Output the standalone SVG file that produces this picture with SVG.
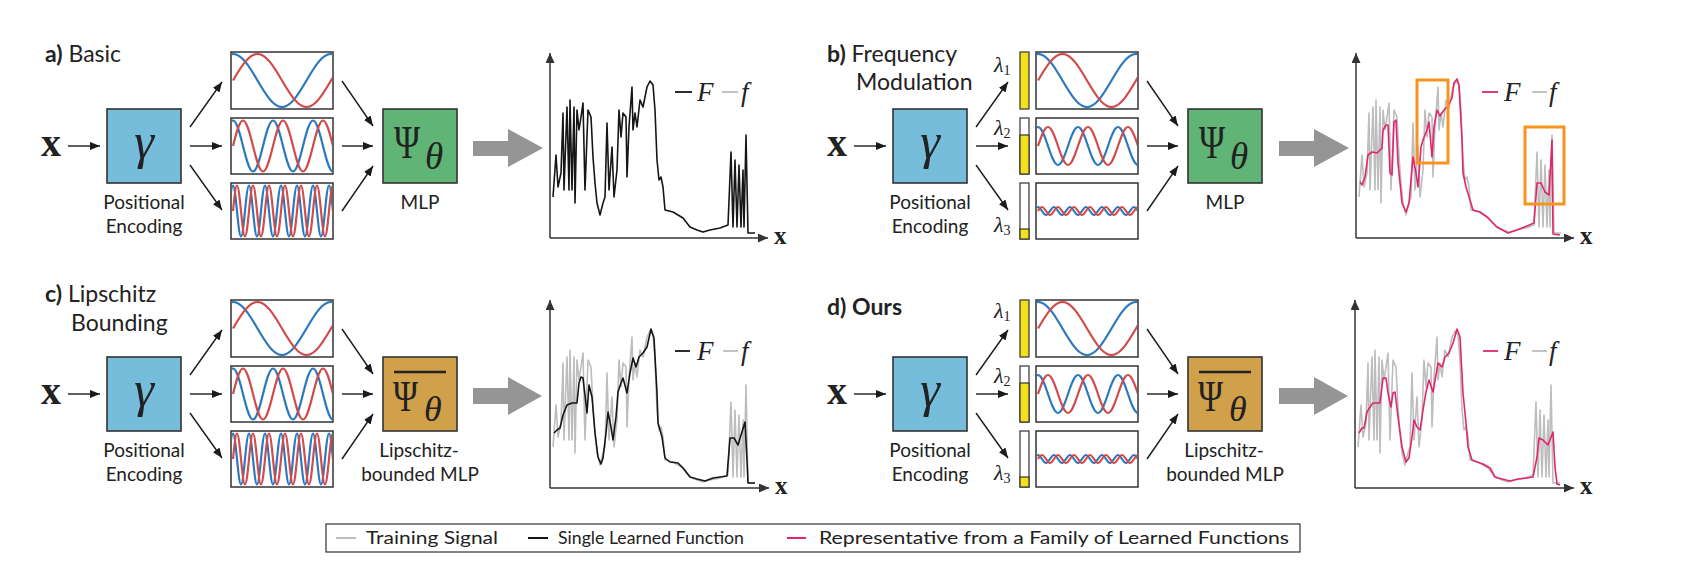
<svg xmlns="http://www.w3.org/2000/svg" xmlns:xlink="http://www.w3.org/1999/xlink" width="1690" height="574" viewBox="0 0 1690 574">
<style>
.bx{stroke:#333;stroke-width:1.6}
.pe{fill:#76bddc}
.mlp{fill:#5fb476}
.lip{fill:#d1a04b}
.wb{fill:#fff;stroke:#333;stroke-width:1.5}
.bar{fill:#fff;stroke:#333;stroke-width:1.2}
.yl{fill:#f4e11c;stroke:#333;stroke-width:1.2}
.wv{fill:none;stroke-width:2.2;vector-effect:non-scaling-stroke}
.bl{stroke:#2b79be}
.rd{stroke:#d24a4a}
.conn line{stroke:#1a1a1a;stroke-width:1.4;marker-end:url(#ah)}
.axis{stroke:#333;stroke-width:1.5;marker-end:url(#ax)}
.lbl{font-family:Lato,"Open Sans",sans-serif;font-size:19px;fill:#222;text-anchor:middle}
.ttl{font-family:Lato,"Open Sans",sans-serif;font-size:23px;fill:#222}
.bold{font-weight:bold}
.mi{font-family:"Liberation Serif",serif;font-style:italic;fill:#222}
.mr{font-family:"Liberation Serif",serif;fill:#222}
.xb{font-family:"Liberation Serif",serif;font-weight:bold;fill:#222}
.big{fill:#959595}
.sig{fill:none;stroke-linejoin:round;stroke-width:1.6}
.gr{stroke:#bdbdbd}
.bk{stroke:#161616}
.pk{stroke:#e0266e}
.or{fill:none;stroke:#f7941d;stroke-width:3}
.leg{font-family:Lato,"Open Sans",sans-serif;font-size:17px;fill:#222}
.lam{font-size:22px}
.sub{font-size:14px;font-style:normal}
</style>
<defs>
<marker id="ah" viewBox="0 0 10 8" refX="10" refY="4" markerWidth="10" markerHeight="8" markerUnits="userSpaceOnUse" orient="auto"><path d="M0,0 L10,4 L0,8 z" fill="#1a1a1a"/></marker>
<marker id="ax" viewBox="0 0 10 9" refX="10" refY="4.5" markerWidth="10" markerHeight="9" markerUnits="userSpaceOnUse" orient="auto"><path d="M0,0 L10,4.5 L0,9 z" fill="#333"/></marker>
<path id="sw" class="wv" d="M0,0 c3.261,-5.123 6.381,-10 10,-10 s6.739,4.877 10,10 s6.381,10 10,10 s6.739,-4.877 10,-10 s6.381,-10 10,-10 s6.739,4.877 10,10 s6.381,10 10,10 s6.739,-4.877 10,-10 s6.381,-10 10,-10 s6.739,4.877 10,10 s6.381,10 10,10 s6.739,-4.877 10,-10 s6.381,-10 10,-10 s6.739,4.877 10,10 s6.381,10 10,10 s6.739,-4.877 10,-10 s6.381,-10 10,-10 s6.739,4.877 10,10 s6.381,10 10,10 s6.739,-4.877 10,-10 s6.381,-10 10,-10 s6.739,4.877 10,10 s6.381,10 10,10 s6.739,-4.877 10,-10 s6.381,-10 10,-10 s6.739,4.877 10,10 s6.381,10 10,10 s6.739,-4.877 10,-10 s6.381,-10 10,-10 s6.739,4.877 10,10 s6.381,10 10,10 s6.739,-4.877 10,-10 s6.381,-10 10,-10"/>
<path id="fsig" d="M553,197 L556,155 558,187 561,173 563,113 564,190 567,107 569,190 570,100 572,190 574,107 575,203 577,110 579,130 581,117 583,103 585,190 588,110 591,117 593,157 595,183 597,203 600,215 603,203 605,197 607,123 609,190 612,147 614,197 617,170 619,110 621,137 623,113 626,117 627,177 629,127 632,87 633,130 635,113 637,127 640,100 643,107 645,97 647,87 650,81 653,85 655,110 657,160 659,180 661,177 663,187 665,210 673,212 683,218 690,227 697,230 703,232 710,230 720,228 728,225 731,152 733,227 735,160 737,227 739,165 741,227 743,170 744,227 746,135 748,233 755,233"/>
</defs>
<rect width="1690" height="574" fill="#fff"/>

<!-- ================= PANEL A ================= -->
<g id="panel-a">
<text class="ttl" x="45" y="62"><tspan class="bold">a)</tspan> Basic</text>
<g id="a-input"><text class="xb" x="41" y="156" font-size="40">x</text></g>
<g id="a-pe">
<rect class="bx pe" x="107" y="109" width="74" height="74"/>
<text class="mi" x="144" y="158" font-size="50" text-anchor="middle">γ</text>
<text class="lbl" x="144" y="209">Positional</text>
<text class="lbl" x="144" y="233">Encoding</text>
</g>
<g id="a-enc1">
<rect class="wb" x="231" y="52" width="102" height="57"/>
<svg x="232" y="53" width="100" height="55" viewBox="232 53 100 55">
<use href="#sw" class="bl" transform="translate(208.5,80.5) scale(2.45,2.65)"/>
<use href="#sw" class="rd" transform="translate(233,80.5) scale(2.45,2.65)"/>
</svg>
</g>
<g id="a-enc2">
<rect class="wb" x="231" y="118" width="102" height="56"/>
<svg x="232" y="119" width="100" height="54" viewBox="232 119 100 54">
<use href="#sw" class="bl" transform="translate(223,146) scale(1,2.55)"/>
<use href="#sw" class="rd" transform="translate(233,146) scale(1,2.55)"/>
</svg>
</g>
<g id="a-enc3">
<rect class="wb" x="231" y="183" width="102" height="56"/>
<svg x="232" y="184" width="100" height="54" viewBox="232 184 100 54">
<use href="#sw" class="bl" transform="translate(229,211) scale(0.4,2.55)"/>
<use href="#sw" class="rd" transform="translate(233,211) scale(0.4,2.55)"/>
</svg>
</g>
<g id="a-mlp">
<rect class="bx mlp" x="383" y="109" width="74" height="74"/>
<text class="mr" x="394" y="158" font-size="46" textLength="26" lengthAdjust="spacingAndGlyphs">Ψ</text>
<text class="mi" x="425" y="169" font-size="37">θ</text>
<text class="lbl" x="420" y="209">MLP</text>
</g>
<g id="a-arrow"><polygon class="big" points="473,141 508,141 508,129 543,148 508,167 508,156 473,156"/></g>
<g id="a-plot">
<line class="axis" x1="550" y1="238" x2="550" y2="53"/>
<line class="axis" x1="550" y1="238" x2="768" y2="238"/>
<text class="xb" x="774" y="244" font-size="25">x</text>
<use href="#fsig" class="sig bk"/>
<line x1="675" y1="92" x2="692" y2="92" stroke="#161616" stroke-width="1.8"/>
<text class="mi" x="697" y="101" font-size="27">F</text>
<line x1="722" y1="92" x2="738" y2="92" stroke="#bdbdbd" stroke-width="1.8"/>
<text class="mi" x="741" y="101" font-size="27">f</text>
</g>
<g id="a-connectors" class="conn">
<line x1="68" y1="146" x2="100" y2="146"/>
<line x1="190" y1="127" x2="222" y2="82"/>
<line x1="190" y1="146" x2="222" y2="146"/>
<line x1="190" y1="165" x2="222" y2="210"/>
<line x1="342" y1="81" x2="373" y2="126"/>
<line x1="342" y1="146" x2="373" y2="146"/>
<line x1="342" y1="211" x2="373" y2="166"/>
</g>
</g>

<!-- ================= PANEL B ================= -->
<g id="panel-b">
<text class="ttl" x="827" y="62"><tspan class="bold">b)</tspan> Frequency</text>
<text class="ttl" x="856" y="90">Modulation</text>
<g id="b-input"><text class="xb" x="827" y="156" font-size="40">x</text></g>
<g id="b-pe">
<rect class="bx pe" x="893" y="109" width="74" height="74"/>
<text class="mi" x="930" y="158" font-size="50" text-anchor="middle">γ</text>
<text class="lbl" x="930" y="209">Positional</text>
<text class="lbl" x="930" y="233">Encoding</text>
</g>
<g id="b-enc1">
<text class="mi lam" x="994" y="72">λ<tspan class="mr sub" dy="3">1</tspan></text>
<rect class="yl" x="1020" y="52" width="9" height="57"/>
<rect class="wb" x="1036" y="52" width="102" height="57"/>
<svg x="1037" y="53" width="100" height="55" viewBox="1037 53 100 55">
<use href="#sw" class="bl" transform="translate(1013.5,80.5) scale(2.45,2.65)"/>
<use href="#sw" class="rd" transform="translate(1038,80.5) scale(2.45,2.65)"/>
</svg>
</g>
<g id="b-enc2">
<text class="mi lam" x="994" y="135">λ<tspan class="mr sub" dy="3">2</tspan></text>
<rect class="bar" x="1020" y="118" width="9" height="56"/>
<rect class="yl" x="1020" y="135" width="9" height="39"/>
<rect class="wb" x="1036" y="118" width="102" height="56"/>
<svg x="1037" y="119" width="100" height="54" viewBox="1037 119 100 54">
<use href="#sw" class="bl" transform="translate(1028,146) scale(1,1.9)"/>
<use href="#sw" class="rd" transform="translate(1038,146) scale(1,1.9)"/>
</svg>
</g>
<g id="b-enc3">
<text class="mi lam" x="994" y="232">λ<tspan class="mr sub" dy="3">3</tspan></text>
<rect class="bar" x="1020" y="183" width="9" height="56"/>
<rect class="yl" x="1020" y="229" width="9" height="10"/>
<rect class="wb" x="1036" y="183" width="102" height="56"/>
<svg x="1037" y="184" width="100" height="54" viewBox="1037 184 100 54">
<use href="#sw" class="bl" transform="translate(1034,211) scale(0.4,0.4)"/>
<use href="#sw" class="rd" transform="translate(1038,211) scale(0.4,0.4)"/>
</svg>
</g>
<g id="b-mlp">
<rect class="bx mlp" x="1188" y="109" width="74" height="74"/>
<text class="mr" x="1199" y="158" font-size="46" textLength="26" lengthAdjust="spacingAndGlyphs">Ψ</text>
<text class="mi" x="1230" y="169" font-size="37">θ</text>
<text class="lbl" x="1225" y="209">MLP</text>
</g>
<g id="b-arrow"><polygon class="big" points="1279,141 1314,141 1314,129 1349,148 1314,167 1314,156 1279,156"/></g>
<g id="b-plot">
<line class="axis" x1="1356" y1="238" x2="1356" y2="53"/>
<line class="axis" x1="1356" y1="238" x2="1574" y2="238"/>
<text class="xb" x="1580" y="244" font-size="25">x</text>
<use href="#fsig" class="sig gr" transform="translate(806,0)"/>
<path class="sig pk" d="M1360,182 L1362,185 1365,177 1368,155 1372,152 1377,153 1382,148 1383,130 1386,125 1388,125 1390,173 1392,175 1394,122 1396,120 1398,163 1402,203 1406,212 1409,203 1413,157 1416,173 1418,187 1421,147 1423,140 1427,130 1429,122 1432,157 1434,127 1437,110 1440,116 1444,110 1448,106 1452,98 1454,83 1457,79 1459,85 1462,140 1463,173 1466,187 1470,200 1473,210 1480,212 1487,217 1497,227 1508,233 1517,230 1527,226 1534,223 1537,183 1541,183 1545,192 1549,195 1552,140 1553,234 1560,235"/>
<rect class="or" x="1417" y="80" width="31" height="83"/>
<rect class="or" x="1525" y="127" width="39" height="77"/>
<line x1="1482" y1="92" x2="1498" y2="92" stroke="#e0266e" stroke-width="1.8"/>
<text class="mi" x="1504" y="101" font-size="27">F</text>
<line x1="1532" y1="92" x2="1547" y2="92" stroke="#bdbdbd" stroke-width="1.8"/>
<text class="mi" x="1549" y="101" font-size="27">f</text>
</g>
<g id="b-connectors" class="conn">
<line x1="854" y1="146" x2="886" y2="146"/>
<line x1="976" y1="127" x2="1008" y2="82"/>
<line x1="976" y1="146" x2="1008" y2="146"/>
<line x1="976" y1="165" x2="1008" y2="210"/>
<line x1="1147" y1="81" x2="1178" y2="126"/>
<line x1="1147" y1="146" x2="1178" y2="146"/>
<line x1="1147" y1="211" x2="1178" y2="166"/>
</g>
</g>

<!-- ================= PANEL C ================= -->
<g id="panel-c">
<text class="ttl" x="45" y="302"><tspan class="bold">c)</tspan> Lipschitz</text>
<text class="ttl" x="71" y="331">Bounding</text>
<g id="c-input"><text class="xb" x="41" y="404" font-size="40">x</text></g>
<g id="c-pe">
<rect class="bx pe" x="107" y="357" width="74" height="74"/>
<text class="mi" x="144" y="406" font-size="50" text-anchor="middle">γ</text>
<text class="lbl" x="144" y="457">Positional</text>
<text class="lbl" x="144" y="481">Encoding</text>
</g>
<g id="c-enc1">
<rect class="wb" x="231" y="300" width="102" height="57"/>
<svg x="232" y="301" width="100" height="55" viewBox="232 301 100 55">
<use href="#sw" class="bl" transform="translate(208.5,328.5) scale(2.45,2.65)"/>
<use href="#sw" class="rd" transform="translate(233,328.5) scale(2.45,2.65)"/>
</svg>
</g>
<g id="c-enc2">
<rect class="wb" x="231" y="366" width="102" height="56"/>
<svg x="232" y="367" width="100" height="54" viewBox="232 367 100 54">
<use href="#sw" class="bl" transform="translate(223,394) scale(1,2.55)"/>
<use href="#sw" class="rd" transform="translate(233,394) scale(1,2.55)"/>
</svg>
</g>
<g id="c-enc3">
<rect class="wb" x="231" y="431" width="102" height="56"/>
<svg x="232" y="432" width="100" height="54" viewBox="232 432 100 54">
<use href="#sw" class="bl" transform="translate(229,459) scale(0.4,2.55)"/>
<use href="#sw" class="rd" transform="translate(233,459) scale(0.4,2.55)"/>
</svg>
</g>
<g id="c-mlp">
<rect class="bx lip" x="383" y="357" width="74" height="74"/>
<line x1="394" y1="372" x2="446" y2="372" stroke="#222" stroke-width="2.4"/>
<text class="mr" x="393" y="411" font-size="44" textLength="25" lengthAdjust="spacingAndGlyphs">Ψ</text>
<text class="mi" x="424" y="421" font-size="36">θ</text>
<text class="lbl" x="419" y="457">Lipschitz-</text>
<text class="lbl" x="420" y="481">bounded MLP</text>
</g>
<g id="c-arrow"><polygon class="big" points="473,388 508,388 508,377 542,396 508,415 508,404 473,404"/></g>
<g id="c-plot">
<line class="axis" x1="550" y1="488" x2="550" y2="300"/>
<line class="axis" x1="550" y1="488" x2="769" y2="488"/>
<text class="xb" x="775" y="494" font-size="25">x</text>
<use href="#fsig" class="sig gr" transform="translate(0,250)"/>
<path class="sig bk" d="M554,433 L557,430 560,428 563,415 567,405 572,403 577,403 579,383 581,377 583,378 587,413 589,385 592,397 595,433 598,457 601,464 603,458 606,433 608,412 611,427 613,440 616,417 618,392 621,383 623,378 627,393 630,373 633,358 636,367 639,357 643,353 647,347 651,329 654,338 657,393 658,423 662,437 665,458 670,462 678,463 683,468 690,477 697,479 705,481 713,478 720,477 727,476 730,438 734,438 738,445 745,422 747,460 748,483 755,483"/>
<line x1="675" y1="351" x2="690" y2="351" stroke="#161616" stroke-width="1.8"/>
<text class="mi" x="697" y="360" font-size="27">F</text>
<line x1="723" y1="351" x2="738" y2="351" stroke="#bdbdbd" stroke-width="1.8"/>
<text class="mi" x="741" y="360" font-size="27">f</text>
</g>
<g id="c-connectors" class="conn">
<line x1="68" y1="394" x2="100" y2="394"/>
<line x1="190" y1="375" x2="222" y2="330"/>
<line x1="190" y1="394" x2="222" y2="394"/>
<line x1="190" y1="413" x2="222" y2="458"/>
<line x1="342" y1="329" x2="373" y2="374"/>
<line x1="342" y1="394" x2="373" y2="394"/>
<line x1="342" y1="459" x2="373" y2="414"/>
</g>
</g>

<!-- ================= PANEL D ================= -->
<g id="panel-d">
<text class="ttl bold" x="827" y="315">d) Ours</text>
<g id="d-input"><text class="xb" x="827" y="404" font-size="40">x</text></g>
<g id="d-pe">
<rect class="bx pe" x="893" y="357" width="74" height="74"/>
<text class="mi" x="930" y="406" font-size="50" text-anchor="middle">γ</text>
<text class="lbl" x="930" y="457">Positional</text>
<text class="lbl" x="930" y="481">Encoding</text>
</g>
<g id="d-enc1">
<text class="mi lam" x="994" y="318">λ<tspan class="mr sub" dy="3">1</tspan></text>
<rect class="yl" x="1020" y="300" width="9" height="57"/>
<rect class="wb" x="1036" y="300" width="102" height="57"/>
<svg x="1037" y="301" width="100" height="55" viewBox="1037 301 100 55">
<use href="#sw" class="bl" transform="translate(1013.5,328.5) scale(2.45,2.65)"/>
<use href="#sw" class="rd" transform="translate(1038,328.5) scale(2.45,2.65)"/>
</svg>
</g>
<g id="d-enc2">
<text class="mi lam" x="994" y="383">λ<tspan class="mr sub" dy="3">2</tspan></text>
<rect class="bar" x="1020" y="366" width="9" height="56"/>
<rect class="yl" x="1020" y="383" width="9" height="39"/>
<rect class="wb" x="1036" y="366" width="102" height="56"/>
<svg x="1037" y="367" width="100" height="54" viewBox="1037 367 100 54">
<use href="#sw" class="bl" transform="translate(1028,394) scale(1,1.9)"/>
<use href="#sw" class="rd" transform="translate(1038,394) scale(1,1.9)"/>
</svg>
</g>
<g id="d-enc3">
<text class="mi lam" x="994" y="480">λ<tspan class="mr sub" dy="3">3</tspan></text>
<rect class="bar" x="1020" y="431" width="9" height="56"/>
<rect class="yl" x="1020" y="477" width="9" height="10"/>
<rect class="wb" x="1036" y="431" width="102" height="56"/>
<svg x="1037" y="432" width="100" height="54" viewBox="1037 432 100 54">
<use href="#sw" class="bl" transform="translate(1034,459) scale(0.4,0.4)"/>
<use href="#sw" class="rd" transform="translate(1038,459) scale(0.4,0.4)"/>
</svg>
</g>
<g id="d-mlp">
<rect class="bx lip" x="1188" y="357" width="74" height="74"/>
<line x1="1199" y1="372" x2="1251" y2="372" stroke="#222" stroke-width="2.4"/>
<text class="mr" x="1198" y="411" font-size="44" textLength="25" lengthAdjust="spacingAndGlyphs">Ψ</text>
<text class="mi" x="1229" y="421" font-size="36">θ</text>
<text class="lbl" x="1224" y="457">Lipschitz-</text>
<text class="lbl" x="1225" y="481">bounded MLP</text>
</g>
<g id="d-arrow"><polygon class="big" points="1279,388 1314,388 1314,377 1348,396 1314,415 1314,404 1279,404"/></g>
<g id="d-plot">
<line class="axis" x1="1355" y1="488" x2="1355" y2="300"/>
<line class="axis" x1="1355" y1="488" x2="1574" y2="488"/>
<text class="xb" x="1580" y="494" font-size="25">x</text>
<use href="#fsig" class="sig gr" transform="translate(805,250)"/>
<path class="sig pk" d="M1359,433 L1362,428 1364,428 1367,412 1370,407 1373,403 1377,403 1380,403 1383,378 1386,378 1388,393 1391,407 1393,393 1395,392 1398,417 1402,447 1406,462 1409,458 1412,437 1414,420 1417,427 1420,430 1423,410 1426,392 1429,380 1433,392 1436,375 1438,363 1442,367 1445,357 1449,353 1453,343 1457,329 1460,337 1463,393 1466,423 1468,447 1472,460 1477,462 1483,464 1490,468 1495,477 1502,479 1510,481 1518,479 1527,478 1533,477 1537,457 1539,438 1543,440 1548,445 1553,432 1555,467 1557,484 1560,485"/>
<line x1="1483" y1="351" x2="1498" y2="351" stroke="#e0266e" stroke-width="1.8"/>
<text class="mi" x="1504" y="360" font-size="27">F</text>
<line x1="1532" y1="351" x2="1547" y2="351" stroke="#bdbdbd" stroke-width="1.8"/>
<text class="mi" x="1549" y="360" font-size="27">f</text>
</g>
<g id="d-connectors" class="conn">
<line x1="854" y1="394" x2="886" y2="394"/>
<line x1="976" y1="375" x2="1008" y2="330"/>
<line x1="976" y1="394" x2="1008" y2="394"/>
<line x1="976" y1="413" x2="1008" y2="458"/>
<line x1="1147" y1="329" x2="1178" y2="374"/>
<line x1="1147" y1="394" x2="1178" y2="394"/>
<line x1="1147" y1="459" x2="1178" y2="414"/>
</g>
</g>

<!-- ================= LEGEND ================= -->
<g id="legend">
<rect x="326" y="524" width="974" height="28" fill="#fff" stroke="#333" stroke-width="1.2"/>
<line x1="336" y1="538" x2="356" y2="538" stroke="#bdbdbd" stroke-width="2"/>
<text class="leg" x="366" y="544" textLength="132" lengthAdjust="spacingAndGlyphs">Training Signal</text>
<line x1="528" y1="538" x2="548" y2="538" stroke="#161616" stroke-width="2"/>
<text class="leg" x="558" y="544" textLength="186" lengthAdjust="spacingAndGlyphs">Single Learned Function</text>
<line x1="787" y1="538" x2="806" y2="538" stroke="#e0266e" stroke-width="2"/>
<text class="leg" x="819" y="544" textLength="470" lengthAdjust="spacingAndGlyphs">Representative from a Family of Learned Functions</text>
</g>
</svg>
